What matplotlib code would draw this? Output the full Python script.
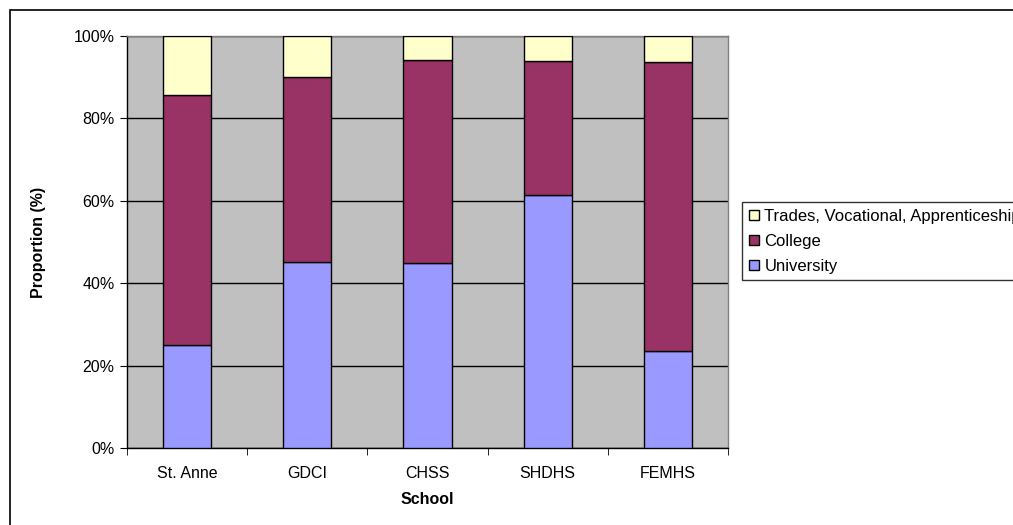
import matplotlib
matplotlib.use("Agg")
import matplotlib.pyplot as plt
import numpy as np
from matplotlib.patches import Rectangle

schools = ["St. Anne", "GDCI", "CHSS", "SHDHS", "FEMHS"]
university = [25.0, 45.2, 44.9, 61.4, 23.5]
college = [60.7, 44.9, 49.2, 32.5, 70.3]
trades = [14.3, 9.9, 5.9, 6.1, 6.2]
yticks = [0, 20, 40, 60, 80, 100]

plt.rcParams["font.family"] = ["Liberation Sans", "DejaVu Sans"]

W, H = 1013, 525
fig = plt.figure(figsize=(W / 100, H / 100), dpi=100)

# outer chart border
fig.patches.append(Rectangle((10 / W, -0.1), 1.2, 1 - 10 / H + 0.1,
                             transform=fig.transFigure, fill=False,
                             edgecolor="black", linewidth=1.2, zorder=0))

ax = fig.add_axes([127 / W, 1 - 448 / H, (728 - 127) / W, (448 - 36) / H])
ax.set_facecolor("#C0C0C0")

x = np.arange(len(schools))
uni = np.array(university)
col = np.array(college)
trd = np.array(trades)
tot = uni + col + trd
uni_p = uni / tot * 100
col_p = col / tot * 100
trd_p = trd / tot * 100

bw = 0.4
b1 = ax.bar(x, uni_p, bw, color="#9999FF", edgecolor="black", linewidth=1, zorder=3,
            label="University")
b2 = ax.bar(x, col_p, bw, bottom=uni_p, color="#993366", edgecolor="black",
            linewidth=1, zorder=3, label="College")
b3 = ax.bar(x, trd_p, bw, bottom=uni_p + col_p, color="#FFFFCC", edgecolor="black",
            linewidth=1, zorder=3, label="Trades, Vocational, Apprenticeship")

fs = 11.5
ax.set_xlim(-0.5, len(schools) - 0.5)
ax.set_ylim(0, 100)
ax.set_yticks(yticks)
ax.set_yticklabels([f"{v}%" for v in yticks], fontsize=fs)
ax.yaxis.grid(True, color="black", linewidth=1)
ax.set_axisbelow(True)

ax.set_xticks(x)
ax.set_xticklabels(schools, fontsize=fs)
ax.tick_params(axis="x", which="major", length=0, pad=13)
ax.set_xticks(np.arange(-0.5, len(schools)), minor=True)
ax.tick_params(axis="x", which="minor", length=5, direction="out", color="black")
ax.tick_params(axis="y", length=5, direction="out", color="black", pad=4)

for s in ["left", "bottom"]:
    ax.spines[s].set_color("black")
    ax.spines[s].set_linewidth(1)
for s in ["top", "right"]:
    ax.spines[s].set_color("#808080")
    ax.spines[s].set_linewidth(1)

ax.set_xlabel("School", fontsize=fs, fontweight="bold", labelpad=8)
ax.set_ylabel("Proportion (%)", fontsize=fs, fontweight="bold", labelpad=20)

leg = fig.legend(handles=[b3, b2, b1], loc="upper left",
                 bbox_to_anchor=(742 / W, 1 - 202 / H), fontsize=fs + 0.5,
                 frameon=True, fancybox=False, edgecolor="black",
                 handlelength=0.6, handleheight=0.6, handletextpad=0.35,
                 borderpad=0.4, labelspacing=0.6, borderaxespad=0)
leg.get_frame().set_linewidth(1)

fig.savefig("out.png", dpi=100)
